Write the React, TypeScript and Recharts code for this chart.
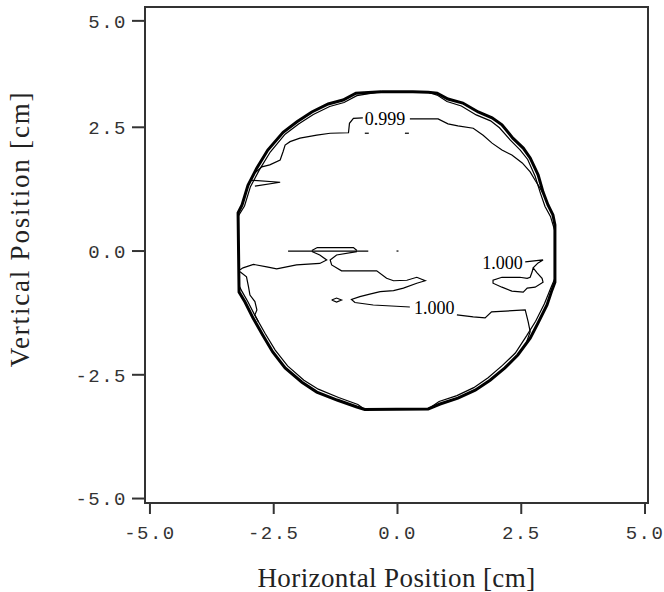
import React from "react";
import {
  Label,
  Line,
  LineChart,
  ReferenceArea,
  ReferenceDot,
  XAxis,
  YAxis,
} from "recharts";

type Pt = { x: number; y: number };
const pts = (rows: number[][]): Pt[] => rows.map(([x, y]) => ({ x, y }));

// axis ticks (the source plot draws its "5.0" tick a little below the true 5.0 position)
const xTicks = [-5, -2.5, 0, 2.5, 5];
const xTickLabels = ["-5.0", "-2.5", "0.0", "2.5", "5.0"];
const yTicks = [-5, -2.5, 0, 2.5, 4.65];
const yTickLabels = ["-5.0", "-2.5", "0.0", "2.5", "5.0"];

// outer edge of the sample (cm)
const outerEdge = pts([
  [-0.33, 3.22], [0.31, 3.22], [0.62, 3.21], [0.8, 3.19], [1.02, 3.07], [1.32, 2.99],
  [1.63, 2.81], [1.91, 2.69], [2.11, 2.55], [2.33, 2.28], [2.54, 2.08], [2.68, 1.88],
  [2.84, 1.54], [2.94, 1.19], [3.04, 0.93], [3.14, 0.73], [3.18, 0.53], [3.18, -0.63],
  [3.12, -0.79], [3.02, -1.09], [2.84, -1.45], [2.68, -1.76], [2.43, -2.1], [2.17, -2.36],
  [1.87, -2.61], [1.57, -2.81], [1.22, -2.97], [0.86, -3.09], [0.62, -3.19], [-0.66, -3.2],
  [-0.82, -3.15], [-1.22, -3.01], [-1.63, -2.85], [-1.93, -2.65], [-2.27, -2.36], [-2.52, -2.04],
  [-2.72, -1.7], [-2.92, -1.35], [-3.08, -1.03], [-3.2, -0.83], [-3.22, 0.77], [-3.14, 0.93],
  [-3.02, 1.33], [-2.84, 1.68], [-2.62, 2.04], [-2.31, 2.4], [-2.03, 2.61], [-1.73, 2.81],
  [-1.4, 2.97], [-1.1, 3.05], [-0.84, 3.19], [-0.33, 3.22],
]);

// inner contours of the edge band
const bandNE = pts([
  [0.62, 3.21], [0.8, 3.15], [1.0, 3.02], [1.29, 2.93], [1.59, 2.75], [1.88, 2.63],
  [2.06, 2.49], [2.28, 2.24], [2.48, 2.04], [2.63, 1.85], [2.78, 1.51], [2.89, 1.16],
  [2.98, 0.9], [3.09, 0.7], [3.15, 0.5], [3.18, 0.4],
]);
const bandSE = pts([
  [3.18, -0.55], [3.09, -0.76], [2.97, -1.06], [2.79, -1.42], [2.61, -1.71], [2.38, -2.06],
  [2.12, -2.31], [1.83, -2.56], [1.54, -2.76], [1.2, -2.92], [0.84, -3.04], [0.62, -3.19],
]);
const bandSW = pts([
  [-0.66, -3.2], [-0.8, -3.1], [-1.19, -2.96], [-1.6, -2.79], [-1.89, -2.61], [-2.22, -2.32],
  [-2.47, -2.0], [-2.67, -1.67], [-2.87, -1.32], [-3.03, -1.01], [-3.15, -0.8], [-3.2, -0.7],
]);
const bandNW = pts([
  [-3.22, 0.7], [-3.09, 0.91], [-2.97, 1.3], [-2.79, 1.64], [-2.57, 2.0], [-2.27, 2.36],
  [-1.99, 2.57], [-1.7, 2.76], [-1.37, 2.92], [-1.08, 3.0], [-0.82, 3.14], [-0.33, 3.22],
]);
const bandWest = pts([
  [-3.18, -0.42], [-3.05, -0.52], [-3.01, -0.72], [-2.98, -0.89], [-2.88, -1.02],
  [-2.84, -1.19], [-2.88, -1.29], [-2.81, -1.43],
]);

// 0.999 contour
const c999West = pts([
  [-2.9, 1.56], [-2.74, 1.7], [-2.58, 1.74], [-2.37, 1.84], [-2.31, 2.01], [-2.27, 2.14],
  [-2.17, 2.21], [-1.97, 2.28], [-1.63, 2.34], [-1.36, 2.38], [-0.99, 2.39], [-0.97, 2.58],
  [-0.89, 2.68], [-0.7, 2.69],
]);
const c999East = pts([
  [0.25, 2.67], [0.82, 2.67], [1.02, 2.57], [1.22, 2.53], [1.53, 2.48], [1.73, 2.34],
  [1.91, 2.18], [2.11, 2.04], [2.31, 1.94], [2.52, 1.78], [2.68, 1.6], [2.78, 1.43],
  [2.88, 1.27], [2.96, 1.13],
]);
const c999Notch = pts([[-2.96, 1.43], [-2.37, 1.39], [-2.88, 1.31]]);
const c999DashA = pts([[-0.66, 2.38], [-0.58, 2.38]]);
const c999DashB = pts([[0.15, 2.38], [0.23, 2.38]]);

// 1.000 contours
const midFlat = pts([[-2.21, 0], [-0.59, 0]]);
const midBump = pts([[-1.73, 0.01], [-1.62, 0.07], [-0.89, 0.07], [-0.82, 0.01]]);
const midWest = pts([
  [-3.18, -0.38], [-3.12, -0.34], [-2.91, -0.27], [-2.64, -0.32], [-2.44, -0.36],
  [-2.34, -0.34], [-2.04, -0.28], [-1.57, -0.25], [-1.43, -0.18], [-1.57, -0.08], [-1.73, -0.01],
]);
const midEast = pts([
  [-0.82, -0.01], [-1.23, -0.08], [-1.36, -0.18], [-1.33, -0.28], [-1.13, -0.4], [-0.42, -0.4],
  [-0.22, -0.55], [-0.08, -0.6], [0.19, -0.59], [0.39, -0.53], [0.56, -0.6], [0.39, -0.65],
  [0.12, -0.75], [-0.08, -0.8], [-0.35, -0.82], [-0.56, -0.87], [-0.76, -0.92], [-0.93, -0.98],
  [-0.86, -1.04], [-0.49, -1.09], [0.25, -1.13],
]);
const midTail = pts([
  [1.2, -1.29], [1.53, -1.33], [1.77, -1.35], [1.9, -1.23], [2.58, -1.19], [2.64, -1.43],
  [2.68, -1.63], [2.61, -1.83],
]);
const islet = pts([[-1.33, -0.99], [-1.23, -0.95], [-1.13, -0.99], [-1.23, -1.03], [-1.33, -0.99]]);
const centreDot = pts([[-0.02, 0], [0.02, 0]]);
const eastIsland = pts([
  [2.58, -0.22], [2.94, -0.18], [2.84, -0.24], [2.74, -0.34], [2.82, -0.44], [2.92, -0.55],
  [2.94, -0.63], [2.78, -0.73], [2.62, -0.75], [2.54, -0.83], [2.31, -0.81], [2.11, -0.73],
  [1.93, -0.65], [1.93, -0.59], [2.11, -0.53], [2.47, -0.53], [2.62, -0.55], [2.68, -0.53],
  [2.72, -0.42], [2.74, -0.34],
]);

const contourLabels = [
  { x: -0.25, y: 2.67, text: "0.999" },
  { x: 0.74, y: -1.15, text: "1.000" },
  { x: 2.12, y: -0.23, text: "1.000" },
];

const thinLines: Pt[][] = [
  bandNE, bandSE, bandSW, bandNW, bandWest,
  c999West, c999East, c999Notch, c999DashA, c999DashB,
  midFlat, midBump, midWest, midEast, midTail, islet, centreDot, eastIsland,
];

const tickFont = { fontFamily: "Liberation Mono", fontSize: 19, fill: "#333", letterSpacing: 1.5 };
const titleFont = { fontFamily: "Liberation Serif", fontSize: 27, fill: "#222" };

export default function App() {
  return (
    <div style={{ position: "absolute", left: 0, top: 0, width: 664, height: 592, background: "#fff" }}>
      <LineChart width={664} height={592} margin={{ top: 7, right: 16, bottom: 0, left: 0 }}>
        <XAxis
          type="number"
          dataKey="x"
          domain={[-5.1, 5.06]}
          allowDataOverflow
          ticks={xTicks}
          tickFormatter={(v: number) => xTickLabels[xTicks.indexOf(v)]}
          height={89}
          tickSize={11}
          tickMargin={12}
          stroke="#333"
          strokeWidth={2}
          tick={tickFont}
        >
          <Label
            content={({ viewBox }: any) => (
              <text
                x={viewBox.x + viewBox.width / 2}
                y={viewBox.y + 84}
                textAnchor="middle"
                letterSpacing={0.4}
                {...titleFont}
              >
                Horizontal Position [cm]
              </text>
            )}
          />
        </XAxis>
        <YAxis
          type="number"
          dataKey="y"
          domain={[-5.09, 4.93]}
          allowDataOverflow
          ticks={yTicks}
          tickFormatter={(v: number) => yTickLabels[yTicks.indexOf(v)]}
          width={145}
          tickSize={13}
          tickMargin={5}
          stroke="#333"
          strokeWidth={2}
          tick={tickFont}
        >
          <Label
            content={() => (
              <text
                x={0}
                y={0}
                transform="translate(29,229) rotate(-90)"
                textAnchor="middle"
                letterSpacing={1.8}
                {...titleFont}
              >
                Vertical Position [cm]
              </text>
            )}
          />
        </YAxis>
        <ReferenceArea x1={-5.1} x2={5.06} y1={-5.09} y2={4.93} fill="none" stroke="#333" strokeWidth={2} />
        <Line
          data={outerEdge}
          dataKey="y"
          name="edge"
          stroke="#000"
          strokeWidth={3}
          dot={false}
          activeDot={false}
          isAnimationActive={false}
        />
        {thinLines.map((d, i) => (
          <Line
            key={i}
            data={d}
            dataKey="y"
            name={`c${i}`}
            stroke="#000"
            strokeWidth={1.2}
            dot={false}
            activeDot={false}
            isAnimationActive={false}
          />
        ))}
        {contourLabels.map((l, i) => (
          <ReferenceDot
            key={i}
            x={l.x}
            y={l.y}
            r={0}
            stroke="none"
            label={{
              value: l.text,
              position: "center",
              style: { fontFamily: "Liberation Serif", fontSize: 18, fill: "#000" },
            }}
          />
        ))}
      </LineChart>
    </div>
  );
}
